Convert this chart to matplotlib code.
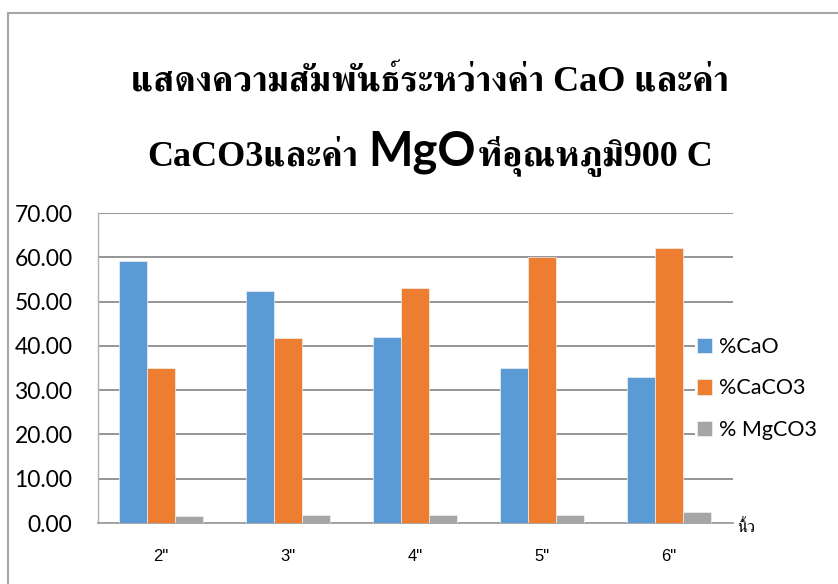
import numpy as np
import matplotlib
matplotlib.use('Agg')
import matplotlib.pyplot as plt
from matplotlib import font_manager
from matplotlib.ft2font import FT2Font
from matplotlib.lines import Line2D

# data
categories = ['2"', '3"', '4"', '5"', '6"']
cao = [59.1, 52.4, 42.0, 35.0, 33.0]
caco3 = [35.0, 41.8, 53.0, 60.0, 62.1]
mgco3 = [1.6, 1.8, 1.8, 1.9, 2.4]
series_names = ['%CaO', '%CaCO3', '% MgCO3']
colors = ['#5B9BD5', '#ED7D31', '#A5A5A5']
yticks = [0, 10, 20, 30, 40, 50, 60, 70]

title1 = 'แสดงความสัมพันธ์ระหว่างค่า CaO และค่า'
title2 = ['CaCO3และค่า', 'MgO', 'ที่อุณหภูมิ900 C']
unit_label = 'นิ้ว'


# look for an installed font with Thai glyphs, bold serif if possible
def find_thai_family():
    fams = {}
    for f in font_manager.fontManager.ttflist:
        try:
            cmap = FT2Font(f.fname).get_charmap()
        except Exception:
            continue
        if 0x0E2A in cmap and 0x0E04 in cmap:
            w = f.weight if isinstance(f.weight, int) else 400
            fams.setdefault(f.name, set()).add(w)
    if not fams:
        return None

    def score(name):
        s = 0
        if max(fams[name]) >= 600:
            s += 10
        if 'Serif' in name or name in ('Kinnari', 'Norasi', 'Laksaman', 'Garuda'):
            s += 5
        return s
    return max(sorted(fams), key=score)


thai = find_thai_family()
serif_fam = ['Liberation Serif'] + ([thai] if thai else []) + ['DejaVu Sans']
narrow_fam = ['Liberation Sans Narrow', 'Liberation Sans'] + ([thai] if thai else []) + ['DejaVu Sans']
plt.rcParams['font.family'] = ['Lato', 'DejaVu Sans']

W, H = 838, 584
fig = plt.figure(figsize=(W / 100, H / 100), dpi=100)
ax = fig.add_axes([97.5 / W, 1 - 523 / H, (732.5 - 97.5) / W, (523 - 213) / H])

x = np.arange(len(categories))
bw = 0.22
for i, (vals, name, c) in enumerate(zip([cao, caco3, mgco3], series_names, colors)):
    ax.bar(x + (i - 1) * bw, vals, bw, color=c, label=name,
           edgecolor='#f0f0f0', linewidth=0.5, zorder=3)

ax.set_xlim(-0.5, len(categories) - 0.5)
ax.set_ylim(0, 70)
ax.set_yticks(yticks)
ax.set_yticklabels(['%.2f' % v for v in yticks], fontsize=16.5)
ax.set_xticks(x)
ax.set_xticklabels(categories, fontsize=12, family=narrow_fam)
ax.tick_params(axis='y', length=0, pad=18)
ax.tick_params(axis='x', length=0, pad=19)
ax.yaxis.grid(True, color='#8c8c8c', linewidth=1.3, zorder=0)
ax.set_axisbelow(True)
for s in ['top', 'right']:
    ax.spines[s].set_visible(False)
ax.spines['bottom'].set_color('#a0a0a0')
ax.spines['bottom'].set_linewidth(1.3)
ax.spines['left'].set_color('#b0b0b0')
ax.spines['left'].set_linewidth(1.0)

leg = ax.legend(loc='center left', bbox_to_anchor=(695 / W, 1 - 388.5 / H),
                bbox_transform=fig.transFigure, fontsize=15.5, frameon=True,
                facecolor='white', edgecolor='none', framealpha=1,
                borderpad=0.1, labelspacing=1.0, handlelength=0.7,
                handleheight=0.7, handletextpad=0.3, borderaxespad=0)
leg.set_zorder(5)

# unit label next to the end of the x axis
fig.text(737 / W, 1 - 527 / H, unit_label, fontsize=12, family=narrow_fam,
         ha='left', va='center')

# chart border (top and left edges)
fig.add_artist(Line2D([8 / W, 8 / W], [0, 1 - 13 / H], color='#a6a6a6', lw=1.5,
                      transform=fig.transFigure))
fig.add_artist(Line2D([8 / W, 1], [1 - 13 / H, 1 - 13 / H], color='#a6a6a6', lw=1.5,
                      transform=fig.transFigure))

# title
cx = 430 / W
fig.text(cx, 1 - 92 / H, title1, fontsize=26, fontweight='bold', family=serif_fam,
         ha='center', va='baseline')

pieces = [
    fig.text(0, 1 - 165 / H, title2[0], fontsize=26, fontweight='bold', family=serif_fam,
             ha='left', va='baseline'),
    fig.text(0, 1 - 165 / H, title2[1], fontsize=34, fontweight='bold',
             family=['Lato', 'DejaVu Sans'], ha='left', va='baseline'),
    fig.text(0, 1 - 165 / H, title2[2], fontsize=26, fontweight='bold', family=serif_fam,
             ha='left', va='baseline'),
]
gaps = [10, 2, 0]
fig.canvas.draw()
r = fig.canvas.get_renderer()
widths = [p.get_window_extent(r).width for p in pieces]
total = sum(widths) + sum(gaps[:-1])
xp = cx * W - total / 2
for p, wdt, g in zip(pieces, widths, gaps):
    p.set_x(xp / W)
    xp += wdt + g

fig.savefig('out.png', dpi=100)
